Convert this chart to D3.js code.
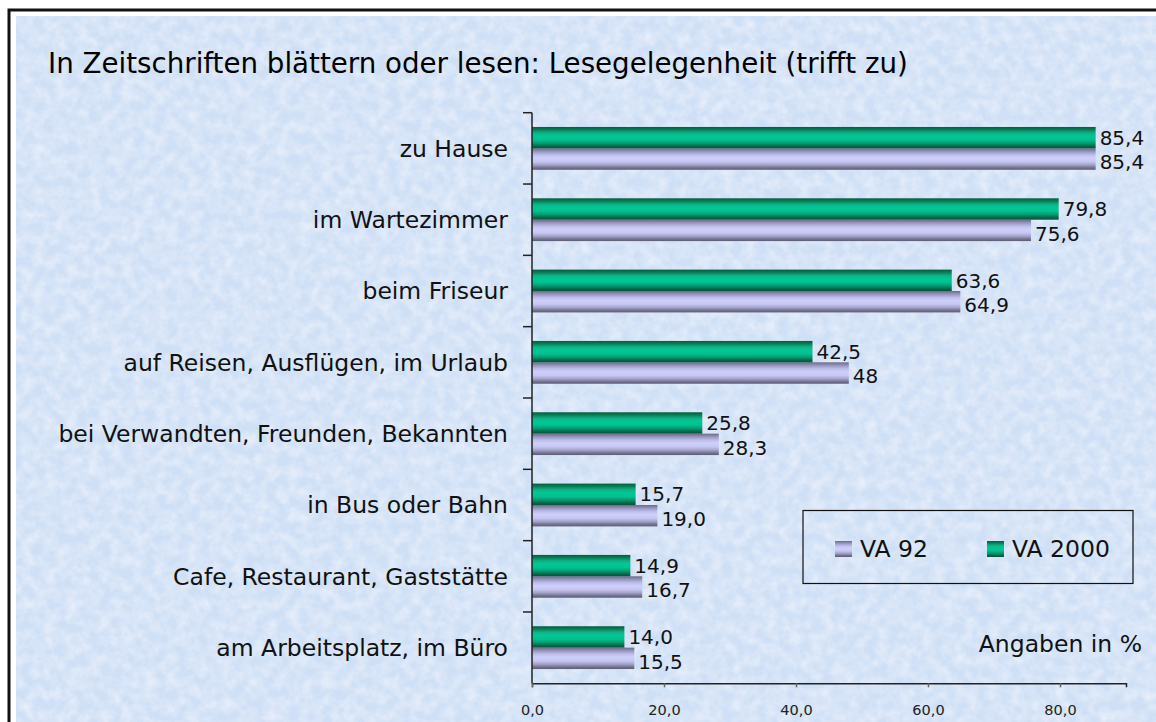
<!DOCTYPE html>
<html>
<head>
<meta charset="utf-8">
<script src="https://cdn.jsdelivr.net/npm/d3@7"></script>
<style>
  body { margin: 0; background: #fff; }
  svg { display: block; font-family: "DejaVu Sans", Verdana, sans-serif; }
</style>
</head>
<body>
<div id="chart"></div>
<script>
// chart values
var categories = [
  "zu Hause",
  "im Wartezimmer",
  "beim Friseur",
  "auf Reisen, Ausflügen, im Urlaub",
  "bei Verwandten, Freunden, Bekannten",
  "in Bus oder Bahn",
  "Cafe, Restaurant, Gaststätte",
  "am Arbeitsplatz, im Büro"
];
var va2000 = [85.4, 79.8, 63.6, 42.5, 25.8, 15.7, 14.9, 14.0];
var va92 = [85.4, 75.6, 64.9, 48, 28.3, 19.0, 16.7, 15.5];
var va2000Labels = ["85,4", "79,8", "63,6", "42,5", "25,8", "15,7", "14,9", "14,0"];
var va92Labels = ["85,4", "75,6", "64,9", "48", "28,3", "19,0", "16,7", "15,5"];
var xTicks = [0, 20, 40, 60, 80];
var seriesNames = ["VA 92", "VA 2000"];

var W = 1156, H = 722;
var plot = { left: 532, right: 1126, top: 112.7, bottom: 683.3 };

var svg = d3.select("#chart").append("svg")
  .attr("width", W).attr("height", H);

var defs = svg.append("defs");

// mottled paper background
var f = defs.append("filter").attr("id", "paper").attr("x", 0).attr("y", 0).attr("width", "100%").attr("height", "100%");
f.append("feTurbulence").attr("type", "fractalNoise").attr("baseFrequency", "0.09").attr("numOctaves", 3).attr("seed", 7).attr("result", "noise");
f.append("feColorMatrix").attr("in", "noise").attr("type", "matrix")
  .attr("values", "0 0 0 0 0.97  0 0 0 0 0.96  0 0 0 0 1  0.9 0 0 0 -0.3")
  .attr("result", "spots");
f.append("feComposite").attr("in", "spots").attr("in2", "SourceGraphic").attr("operator", "atop");

var gGreen = defs.append("linearGradient").attr("id", "gGreen").attr("x1", 0).attr("y1", 0).attr("x2", 0).attr("y2", 1);
[[0, "#045c3e"], [0.12, "#0a7a56"], [0.28, "#10b083"], [0.42, "#00c896"], [0.6, "#00c18f"], [0.76, "#069a70"], [0.9, "#05684a"], [1, "#045236"]]
  .forEach(function (s) { gGreen.append("stop").attr("offset", s[0]).attr("stop-color", s[1]); });

var gPurple = defs.append("linearGradient").attr("id", "gPurple").attr("x1", 0).attr("y1", 0).attr("x2", 0).attr("y2", 1);
[[0, "#6a6a88"], [0.14, "#9494bc"], [0.3, "#bdbdea"], [0.45, "#cfcffb"], [0.62, "#c6c6f2"], [0.78, "#a0a0c8"], [0.9, "#74748e"], [1, "#5c5c74"]]
  .forEach(function (s) { gPurple.append("stop").attr("offset", s[0]).attr("stop-color", s[1]); });

// frame
svg.append("rect").attr("x", 9).attr("y", 10).attr("width", W + 20).attr("height", H + 20)
  .attr("fill", "#fff").attr("stroke", "#111").attr("stroke-width", 3);
var bg = svg.append("g").attr("filter", "url(#paper)");
bg.append("rect").attr("x", 16).attr("y", 16).attr("width", W - 16).attr("height", H - 16)
  .attr("fill", "#cfe0f6");

// title
svg.append("text").attr("x", 48).attr("y", 73)
  .attr("font-size", 27.7).attr("fill", "#000")
  .text("In Zeitschriften blättern oder lesen: Lesegelegenheit (trifft zu)");

var x = d3.scaleLinear().domain([0, 90]).range([plot.left, plot.right]);
var y = d3.scaleBand().domain(categories).range([plot.top, plot.bottom]).paddingInner(0.4).paddingOuter(0.2);

// bars
var barH = y.bandwidth() / 2;
var rows = svg.append("g").selectAll("g").data(categories).join("g")
  .attr("transform", function (d) { return "translate(0," + y(d) + ")"; });

rows.append("rect")
  .attr("x", x(0)).attr("y", barH)
  .attr("width", function (d, i) { return x(va92[i]) - x(0); })
  .attr("height", barH).attr("fill", "url(#gPurple)");

rows.append("rect")
  .attr("x", x(0)).attr("y", 0)
  .attr("width", function (d, i) { return x(va2000[i]) - x(0); })
  .attr("height", barH).attr("fill", "url(#gGreen)");

rows.append("text")
  .attr("x", function (d, i) { return x(va2000[i]) + 4; })
  .attr("y", barH / 2).attr("dy", "0.36em")
  .attr("font-size", 20).attr("fill", "#111")
  .text(function (d, i) { return va2000Labels[i]; });

rows.append("text")
  .attr("x", function (d, i) { return x(va92[i]) + 4; })
  .attr("y", barH * 1.5 + 3).attr("dy", "0.36em")
  .attr("font-size", 20).attr("fill", "#111")
  .text(function (d, i) { return va92Labels[i]; });

// category axis
var yAxis = svg.append("g").attr("transform", "translate(" + plot.left + ",0)");
yAxis.append("line").attr("x1", 0).attr("x2", 0).attr("y1", plot.top).attr("y2", plot.bottom)
  .attr("stroke", "#222").attr("stroke-width", 1.5);
yAxis.selectAll(".tk").data(d3.range(categories.length)).join("line")
  .attr("x1", -9).attr("x2", 0)
  .attr("y1", function (i) { return plot.top + i * (plot.bottom - plot.top) / categories.length; })
  .attr("y2", function (i) { return plot.top + i * (plot.bottom - plot.top) / categories.length; })
  .attr("stroke", "#222").attr("stroke-width", 1.5);
yAxis.selectAll(".lbl").data(categories).join("text")
  .attr("x", -24)
  .attr("y", function (d) { return y(d) + y.bandwidth() / 2; })
  .attr("dy", "0.36em").attr("text-anchor", "end")
  .attr("font-size", 23.5).attr("fill", "#111")
  .text(function (d) { return d; });

// value axis
var xAxis = svg.append("g").attr("transform", "translate(0," + plot.bottom + ")")
  .call(d3.axisBottom(x).tickValues(xTicks).tickSize(4).tickPadding(17)
    .tickFormat(function (v) { return d3.format(".1f")(v).replace(".", ","); }));
xAxis.select(".domain").attr("stroke", "#222").attr("stroke-width", 1.5);
xAxis.selectAll(".tick line").attr("stroke", "#666").attr("stroke-width", 1.5);
xAxis.selectAll("text").attr("font-size", 14.5).attr("font-family", "DejaVu Sans, sans-serif").attr("fill", "#222");

// legend
var lg = svg.append("g");
lg.append("rect").attr("x", 803).attr("y", 510.5).attr("width", 330).attr("height", 73)
  .attr("fill", "none").attr("stroke", "#111").attr("stroke-width", 1.2);
var legX = [835, 987];
var legFill = ["url(#gPurple)", "url(#gGreen)"];
seriesNames.forEach(function (n, i) {
  lg.append("rect").attr("x", legX[i]).attr("y", 541).attr("width", 17).attr("height", 16).attr("fill", legFill[i]);
  lg.append("text").attr("x", legX[i] + 25).attr("y", 549).attr("dy", "0.36em")
    .attr("font-size", 23.5).attr("fill", "#111").text(n);
});

svg.append("text").attr("x", 1142).attr("y", 652).attr("text-anchor", "end")
  .attr("font-size", 23.5).attr("fill", "#111").text("Angaben in %");
</script>
</body>
</html>
